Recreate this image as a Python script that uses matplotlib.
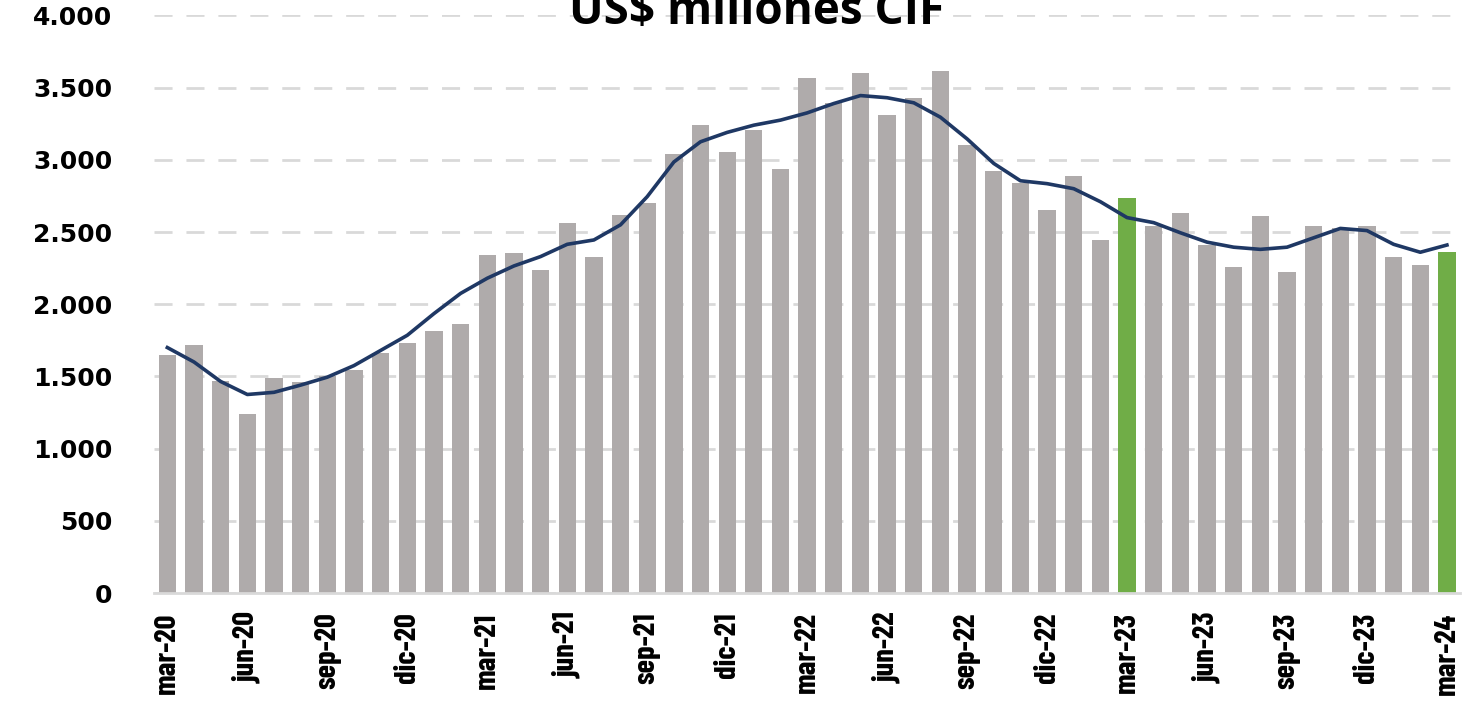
import matplotlib.pyplot as plt
import numpy as np

MONTHS = ["ene", "feb", "mar", "abr", "may", "jun",
          "jul", "ago", "sep", "oct", "nov", "dic"]

# monthly imports, mar-20 .. mar-24
LABELS = [f"{MONTHS[(2 + i) % 12]}-{20 + (2 + i) // 12}" for i in range(49)]

IMPORTS = [
    1650, 1715, 1470, 1240, 1490, 1460, 1500, 1545, 1665, 1730, 1815, 1865,
    2340, 2355, 2240, 2565, 2325, 2615, 2700, 3040, 3240, 3055, 3205, 2935,
    3565, 3395, 3600, 3310, 3430, 3615, 3105, 2920, 2840, 2650, 2885, 2445,
    2735, 2545, 2630, 2410, 2255, 2610, 2220, 2545, 2530, 2545, 2325, 2270,
    2360,
]

# moving average
TREND = [
    1700, 1600, 1465, 1375, 1390, 1440, 1495, 1575, 1680, 1785, 1935, 2075,
    2180, 2265, 2330, 2415, 2445, 2550, 2745, 2985, 3125, 3190, 3240, 3275,
    3325, 3390, 3445, 3430, 3395, 3295, 3145, 2975, 2855, 2835, 2800, 2710,
    2600, 2565, 2495, 2430, 2395, 2380, 2395, 2460, 2525, 2510, 2415, 2360,
    2410,
]

HIGHLIGHT = ["mar-23", "mar-24"]

GRAY = "#afabab"
GREEN = "#70ad47"
NAVY = "#1f3864"
GRID = "#d9d9d9"

fig = plt.figure(figsize=(14.81, 7.01), dpi=100)
ax = fig.add_axes([0.104, 0.154, 0.882, 0.824])

x = np.arange(len(IMPORTS))
colors = [GREEN if lab in HIGHLIGHT else GRAY for lab in LABELS]
ax.bar(x, IMPORTS, width=0.65, color=colors, zorder=2)
ax.plot(x, TREND, color=NAVY, linewidth=2.6, zorder=3)

ax.set_xlim(-0.5, len(IMPORTS) - 0.5)
ax.set_ylim(0, 4000)
ax.set_yticks(np.arange(0, 4001, 500))
ax.set_yticklabels([f"{v:,}".replace(",", ".") for v in range(0, 4001, 500)],
                   fontsize=18, fontweight="bold")
ax.set_xticks(x[::3])
ax.set_xticklabels(LABELS[::3], rotation=90, fontsize=22, fontweight="bold",
                   family=["Barlow Condensed", "DejaVu Sans"])
ax.tick_params(axis="y", length=0, pad=30)
ax.tick_params(axis="x", length=0, pad=14)

ax.yaxis.grid(True, color=GRID, linewidth=2, linestyle=(0, (6.5, 5)), zorder=0)
for side in ["top", "right", "left"]:
    ax.spines[side].set_visible(False)
ax.spines["bottom"].set_color(GRID)
ax.spines["bottom"].set_linewidth(2)

fig.text(0.511, 0.966, "US$ millones CIF", ha="center", va="baseline",
         fontsize=33, fontweight="bold", family="Open Sans")

fig.savefig("out.png", dpi=100)
plt.close(fig)
